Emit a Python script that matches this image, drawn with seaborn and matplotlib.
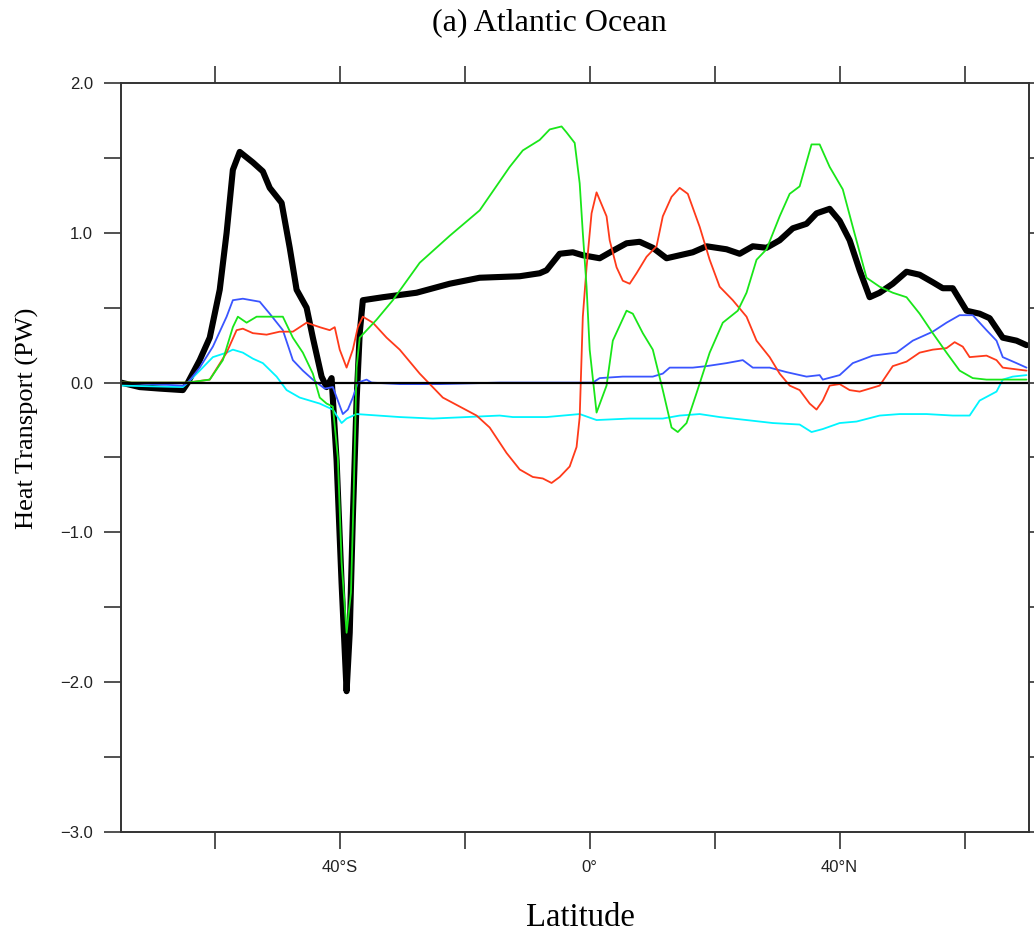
import numpy as np
import pandas as pd
import matplotlib
matplotlib.use("Agg")
import matplotlib.pyplot as plt
import seaborn as sns

# 数据：纬度 (度, 南负北正) 与热输送 (PW)
lat_total = [-75.0, -72.0, -68.8, -65.1, -64.3, -62.4, -60.8, -59.2, -58.1, -57.1, -56.0,
             -53.9, -52.3, -51.2, -49.3, -48.0, -46.9, -45.3, -44.3, -42.9, -42.1, -41.3,
             -40.5, -39.7, -38.9, -38.4, -37.9, -37.3, -36.8, -36.3, -33.1, -27.7, -22.4,
             -17.6, -11.2, -8.0, -6.9, -4.8, -2.7, -1.1, 1.6, 3.7, 5.9, 8.0, 10.1, 12.3,
             14.4, 16.5, 18.7, 21.9, 24.0, 26.1, 28.3, 30.4, 32.5, 34.7, 36.3, 38.4, 40.0,
             41.6, 43.2, 44.8, 46.4, 48.5, 50.7, 52.8, 54.9, 56.5, 58.1, 60.3, 62.4, 64.0,
             66.1, 68.3, 69.9]
total = [0.0, -0.03, -0.04, -0.05, 0.0, 0.15, 0.30, 0.62, 1.00, 1.42, 1.54,
         1.47, 1.41, 1.30, 1.20, 0.90, 0.62, 0.50, 0.30, 0.04, -0.03, 0.03,
         -0.52, -1.34, -2.06, -1.67, -0.90, -0.12, 0.33, 0.55, 0.57, 0.60, 0.66,
         0.70, 0.71, 0.73, 0.75, 0.86, 0.87, 0.85, 0.83, 0.88, 0.93, 0.94, 0.90, 0.83,
         0.85, 0.87, 0.91, 0.89, 0.86, 0.91, 0.90, 0.95, 1.03, 1.06, 1.13, 1.16, 1.08,
         0.95, 0.75, 0.57, 0.60, 0.66, 0.74, 0.72, 0.67, 0.63, 0.63, 0.48, 0.46, 0.43,
         0.30, 0.28, 0.25]

lat_green = [-75.0, -64.3, -60.8, -58.7, -57.1, -56.3, -54.9, -53.3, -51.2, -49.1, -47.5,
             -45.9, -44.3, -43.2, -42.1, -41.1, -40.3, -39.7, -38.9, -38.2, -37.8, -37.3,
             -36.8, -34.1, -31.5, -27.2, -22.4, -17.6, -12.8, -10.7, -8.0, -6.4, -4.5,
             -3.7, -2.4, -1.6, -1.1, -0.5, 0.0, 1.1, 2.7, 3.7, 5.9, 6.9, 8.5, 10.1, 11.7,
             13.1, 14.1, 15.5, 17.1, 19.2, 21.3, 23.7, 25.1, 26.7, 28.3, 30.4, 32.0, 33.6,
             35.5, 36.8, 38.4, 40.5, 42.1, 44.3, 46.4, 48.5, 50.7, 52.8, 54.9, 57.1, 59.2,
             61.3, 63.5, 69.9]
green = [0.0, 0.0, 0.02, 0.15, 0.37, 0.44, 0.40, 0.44, 0.44, 0.44, 0.30,
         0.20, 0.06, -0.10, -0.14, -0.16, -0.50, -1.20, -1.67, -1.40, -0.80, 0.10,
         0.30, 0.42, 0.55, 0.80, 0.98, 1.15, 1.44, 1.55, 1.62, 1.69, 1.71,
         1.67, 1.60, 1.33, 1.00, 0.64, 0.22, -0.20, -0.02, 0.28, 0.48, 0.46, 0.33, 0.22, -0.05,
         -0.30, -0.33, -0.27, -0.07, 0.20, 0.40, 0.48, 0.60, 0.82, 0.89, 1.11, 1.26, 1.31,
         1.59, 1.59, 1.44, 1.29, 1.04, 0.70, 0.64, 0.60, 0.57, 0.46, 0.33, 0.20, 0.08,
         0.03, 0.02, 0.02]

lat_red = [-75.0, -64.3, -60.8, -58.1, -56.5, -55.5, -53.9, -51.7, -49.6, -47.5, -45.3,
           -43.2, -41.6, -40.8, -40.0, -38.9, -37.9, -37.1, -36.3, -34.7, -32.5, -30.4,
           -27.2, -23.5, -20.8, -18.1, -16.0, -13.3, -11.2, -9.1, -7.5, -6.1, -4.8, -3.2,
           -2.1, -1.6, -1.1, -0.5, 0.3, 1.1, 1.6, 2.7, 3.2, 4.3, 5.3, 6.4, 7.5, 9.1, 10.7,
           11.7, 13.1, 14.4, 15.7, 17.6, 19.2, 20.8, 22.9, 25.1, 26.7, 28.8, 30.4, 32.0,
           33.6, 35.2, 36.3, 37.3, 38.4, 40.0, 41.6, 43.2, 44.8, 46.4, 48.5, 50.7, 52.8,
           54.9, 57.1, 58.4, 59.7, 60.8, 63.5, 65.1, 66.1, 69.9]
red = [0.0, 0.0, 0.02, 0.20, 0.35, 0.36, 0.33, 0.32, 0.34, 0.34, 0.40,
       0.37, 0.35, 0.37, 0.22, 0.10, 0.22, 0.37, 0.44, 0.40, 0.30, 0.22,
       0.06, -0.10, -0.16, -0.22, -0.30, -0.47, -0.58, -0.63, -0.64, -0.67, -0.63, -0.56,
       -0.43, -0.23, 0.44, 0.77, 1.13, 1.27, 1.22, 1.11, 0.95, 0.77, 0.68, 0.66, 0.73, 0.84, 0.91,
       1.11, 1.24, 1.30, 1.26, 1.04, 0.82, 0.64, 0.55, 0.44, 0.28, 0.17, 0.06, -0.02,
       -0.05, -0.14, -0.18, -0.12, -0.02, -0.01, -0.05, -0.06, -0.04, -0.02, 0.11, 0.14, 0.20,
       0.22, 0.23, 0.27, 0.24, 0.17, 0.18, 0.15, 0.10, 0.08]

lat_blue = [-75.0, -65.1, -64.3, -62.4, -60.3, -58.1, -57.1, -55.5, -52.8, -51.2, -49.1,
            -47.5, -45.9, -44.3, -42.4, -41.1, -40.3, -39.5, -38.7, -37.9, -37.1, -35.7,
            -34.9, -30.4, -24.0, -14.4, -3.2, 0.5, 1.6, 5.3, 10.1, 11.7, 12.8, 16.5, 18.7,
            21.9, 24.5, 26.1, 28.8, 31.5, 34.7, 36.8, 37.3, 40.0, 42.1, 45.3, 49.1, 51.7,
            54.9, 57.1, 59.2, 61.3, 63.5, 65.1, 66.1, 68.3, 69.9]
blue = [0.0, -0.02, 0.0, 0.10, 0.24, 0.44, 0.55, 0.56, 0.54, 0.46, 0.35,
        0.15, 0.08, 0.02, -0.04, -0.03, -0.12, -0.21, -0.18, -0.10, 0.0, 0.02,
        0.0, -0.01, -0.01, 0.0, 0.0, 0.0, 0.03, 0.04, 0.04, 0.06, 0.10, 0.10, 0.11,
        0.13, 0.15, 0.10, 0.10, 0.07, 0.04, 0.05, 0.02, 0.05, 0.13, 0.18, 0.20, 0.28,
        0.34, 0.40, 0.45, 0.45, 0.35, 0.28, 0.17, 0.13, 0.10]

lat_cyan = [-75.0, -65.1, -64.3, -62.4, -60.3, -58.1, -57.1, -55.5, -53.9, -52.3, -50.1,
            -48.5, -46.4, -43.2, -41.1, -39.7, -38.9, -37.3, -30.4, -25.1, -19.7, -14.4,
            -12.3, -6.9, -1.6, 1.1, 6.4, 11.7, 14.4, 17.6, 20.8, 25.1, 29.3, 33.6, 35.5,
            37.3, 40.0, 42.7, 46.4, 49.6, 53.9, 58.1, 60.8, 62.4, 65.1, 66.1, 67.7, 69.9]
cyan = [-0.02, -0.03, 0.0, 0.08, 0.17, 0.20, 0.22, 0.20, 0.16, 0.13, 0.04,
        -0.05, -0.10, -0.14, -0.18, -0.27, -0.24, -0.21, -0.23, -0.24, -0.23, -0.22,
        -0.23, -0.23, -0.21, -0.25, -0.24, -0.24, -0.22, -0.21, -0.23, -0.25, -0.27, -0.28, -0.33,
        -0.31, -0.27, -0.26, -0.22, -0.21, -0.21, -0.22, -0.22, -0.12, -0.06, 0.02, 0.04, 0.05]

x_ticks = [-60, -40, -20, 0, 20, 40, 60]
x_ticklabels = ["", "40°S", "", "0°", "", "40°N", ""]
y_ticks = [-3.0, -2.5, -2.0, -1.5, -1.0, -0.5, 0.0, 0.5, 1.0, 1.5, 2.0]
y_ticklabels = ["\u22123.0", "", "\u22122.0", "", "\u22121.0", "", "0.0", "", "1.0", "", "2.0"]

sns.set_theme(style="ticks")
plt.rcParams['font.family'] = ['Liberation Sans', 'DejaVu Sans']

fig = plt.figure(figsize=(10.34, 9.36), dpi=100)
ax = fig.add_axes([121 / 1034, 1 - 832 / 936, 908 / 1034, 749 / 936])

# 粗黑线先画，零线其次，彩色细线在上
sns.lineplot(x=lat_total, y=total, color="black", lw=4.4, ax=ax, estimator=None, sort=False)
ax.axhline(0, color="black", lw=1.6, zorder=2.5)
sns.lineplot(x=lat_cyan, y=cyan, color="#00f5ff", lw=1.3, ax=ax, estimator=None, sort=False)
sns.lineplot(x=lat_blue, y=blue, color="#3a55ff", lw=1.3, ax=ax, estimator=None, sort=False)
sns.lineplot(x=lat_red, y=red, color="#ff3a1a", lw=1.3, ax=ax, estimator=None, sort=False)
sns.lineplot(x=lat_green, y=green, color="#19e619", lw=1.3, ax=ax, estimator=None, sort=False)

ax.set_xlim(-75, 70.3)
ax.set_ylim(-3.0, 2.0)
ax.set_xticks(x_ticks)
ax.set_xticklabels(x_ticklabels)
ax.set_yticks(y_ticks)
ax.set_yticklabels(y_ticklabels)
ax.tick_params(axis="both", direction="out", length=12, width=1.2, color="#333333",
               labelsize=12, labelcolor="#222222", pad=8,
               top=True, right=True)
for s in ax.spines.values():
    s.set_visible(True)
    s.set_color("#333333")
    s.set_linewidth(1.4)
ax.grid(False)
ax.set_xlabel("")
ax.set_ylabel("")

serif = ['Liberation Serif', 'DejaVu Serif']
fig.text(549 / 1034, 1 - 23 / 936, "(a) Atlantic Ocean", ha="center", va="center",
         fontsize=23, family=serif, color="black")
fig.text(580 / 1034, 1 - 918 / 936, "Latitude", ha="center", va="center",
         fontsize=23.5, family=serif, color="black")
fig.text(27 / 1034, 1 - 418 / 936, "Heat Transport (PW)", ha="center", va="center",
         rotation=90, fontsize=19, family=serif, color="black")

fig.savefig("out.png", dpi=100, facecolor="white")
